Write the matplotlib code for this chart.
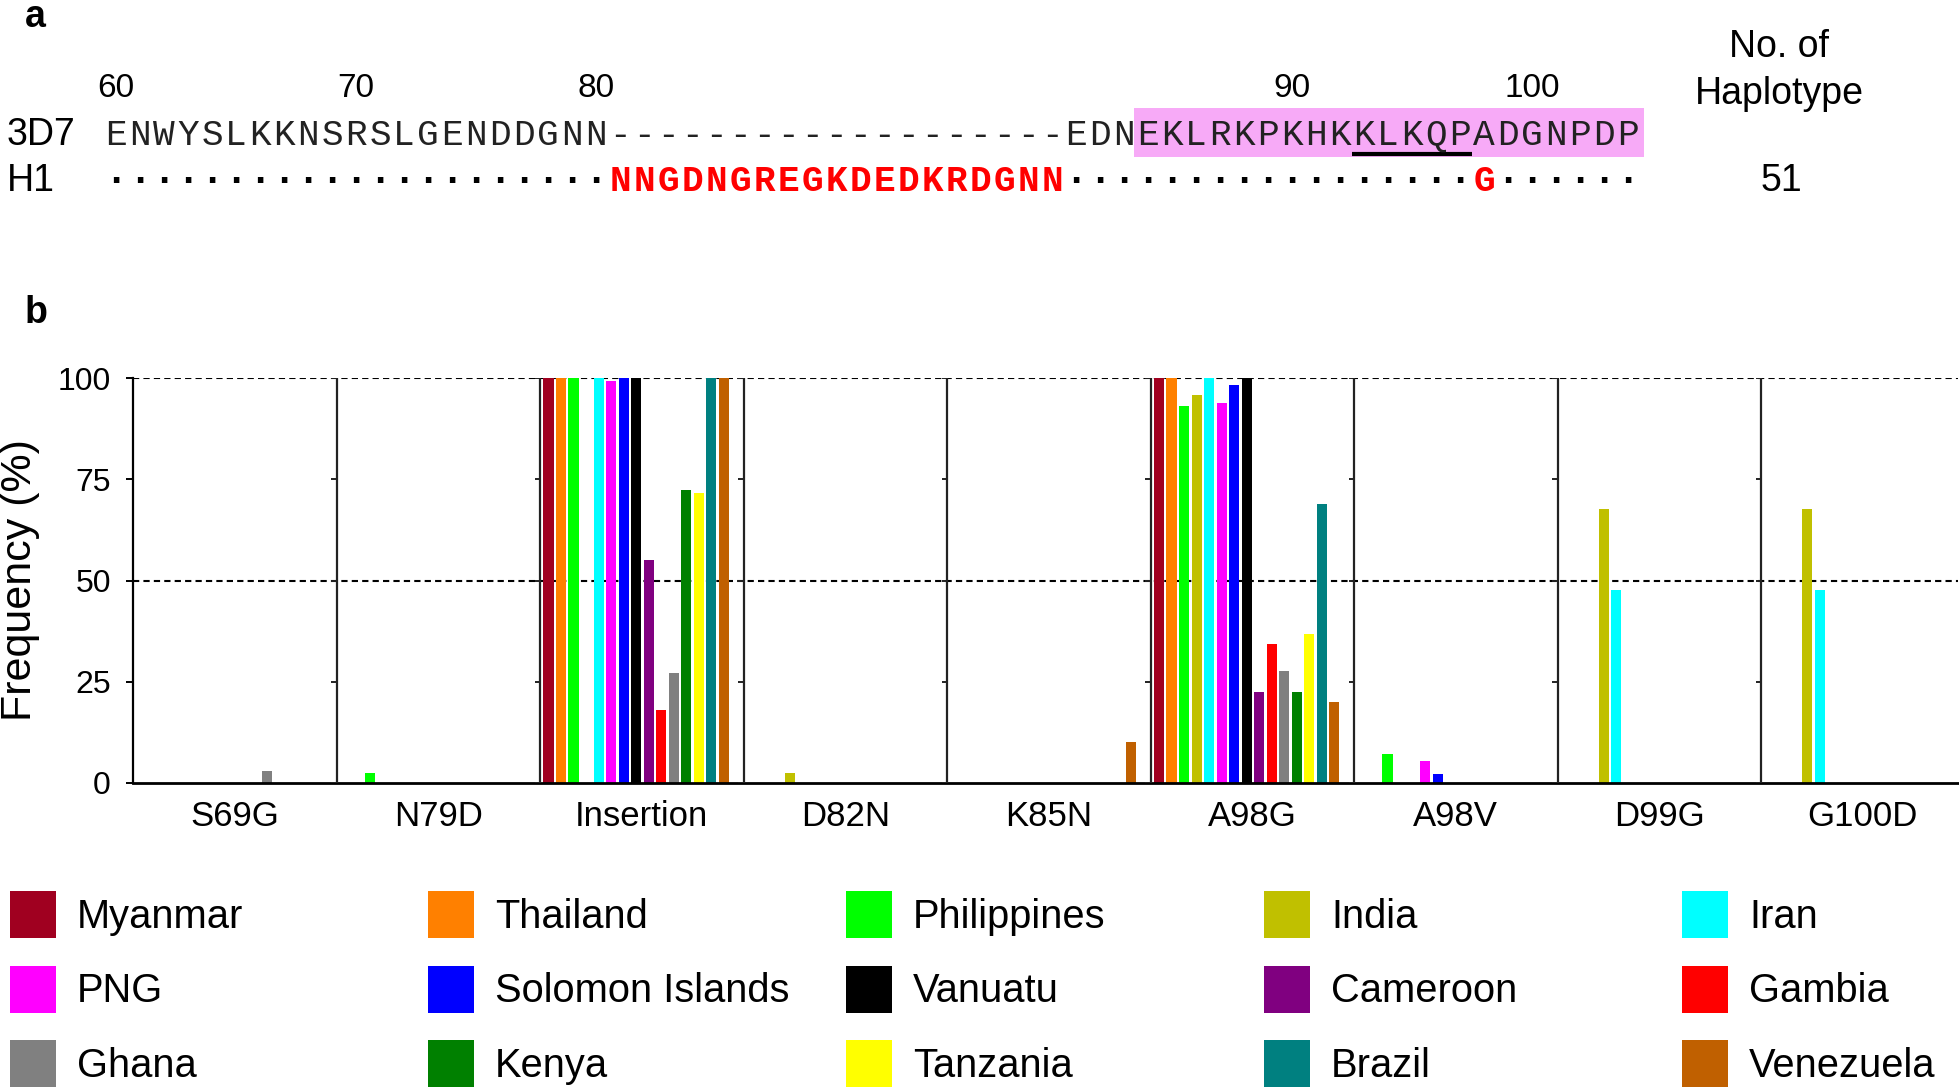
import matplotlib
matplotlib.use('Agg')
import matplotlib.pyplot as plt
from matplotlib.patches import Rectangle

plt.rcParams['font.family'] = ['Liberation Sans', 'DejaVu Sans']

# ---------------- data ----------------
countries = ['Myanmar', 'Thailand', 'Philippines', 'India', 'Iran',
             'PNG', 'Solomon Islands', 'Vanuatu', 'Cameroon', 'Gambia',
             'Ghana', 'Kenya', 'Tanzania', 'Brazil', 'Venezuela']
colors = ['#A00020', '#FF8000', '#00FF00', '#C0C000', '#00FFFF',
          '#FF00FF', '#0000FF', '#000000', '#800080', '#FF0000',
          '#808080', '#008000', '#FFFF00', '#008080', '#C06000']
mutations = ['S69G', 'N79D', 'Insertion', 'D82N', 'K85N',
             'A98G', 'A98V', 'D99G', 'G100D']

freq_S69G = [0, 0, 0, 0, 0, 0, 0, 0, 0, 0, 3.0, 0, 0, 0, 0]
freq_N79D = [0, 0, 2.5, 0, 0, 0, 0, 0, 0, 0, 0, 0, 0, 0, 0]
freq_Insertion = [100, 100, 100, 0, 100, 99.3, 100, 100, 55.0, 18.0, 27.2, 72.3, 71.7, 100, 100]
freq_D82N = [0, 0, 0, 2.4, 0, 0, 0, 0, 0, 0, 0, 0, 0, 0, 0]
freq_K85N = [0, 0, 0, 0, 0, 0, 0, 0, 0, 0, 0, 0, 0, 0, 10.2]
freq_A98G = [100, 100, 93.2, 95.9, 100, 93.9, 98.2, 100, 22.5, 34.4, 27.6, 22.5, 36.7, 69.0, 20.1]
freq_A98V = [0, 0, 7.2, 0, 0, 5.5, 2.1, 0, 0, 0, 0, 0, 0, 0, 0]
freq_D99G = [0, 0, 0, 67.6, 47.6, 0, 0, 0, 0, 0, 0, 0, 0, 0, 0]
freq_G100D = [0, 0, 0, 67.6, 47.6, 0, 0, 0, 0, 0, 0, 0, 0, 0, 0]
freqs = [freq_S69G, freq_N79D, freq_Insertion, freq_D82N, freq_K85N,
         freq_A98G, freq_A98V, freq_D99G, freq_G100D]
yticks = [0, 25, 50, 75, 100]

# sequence alignment (panel a)
seq_3d7 = "ENWYSLKKNSRSLGENDDGNN" + "-" * 19 + "EDN" + "EKLRKPKHKKLKQPADGNPDP"
seq_h1 = "." * 21 + "NNGDNGREGKDEDKRDGNN" + "." * 17 + "G" + "." * 6
residue_labels = [60, 70, 80, 90, 100]
highlight_res = (84, 104)
underline_res = (93, 97)
haplotype_count = '51'


def res_index(r):
    return r - 60 if r <= 80 else r - 41


# ---------------- figure ----------------
W, H = 1959, 1088
fig = plt.figure(figsize=(W / 100, H / 100), dpi=100)

# panel b axes
x_left, x_right, y_top, y_bot = 133, 1958, 378, 783
panel_px = 203.5
ax = fig.add_axes([x_left / W, 1 - y_bot / H, (x_right - x_left) / W, (y_bot - y_top) / H])
xmax = (x_right - x_left) / panel_px
ax.set_xlim(0, xmax)
ax.set_ylim(0, 100)

ax.hlines([50, 100], 0, xmax, colors='black', linestyles=(0, (3, 2)), lw=1.5, zorder=1)
for i, vals in enumerate(freqs):
    xs = [i + 0.042 + 0.0615 * j for j in range(len(vals))]
    ax.bar(xs, vals, width=0.05, color=colors, linewidth=0, zorder=2, clip_on=False)

ax.vlines(range(1, 9), 0, 100, colors='#222222', lw=1.6, zorder=3)
for d in range(1, 9):
    ax.hlines(yticks, d - 0.025, d, colors='#222222', lw=1.4, zorder=3)

for s in ['top', 'right']:
    ax.spines[s].set_visible(False)
ax.spines['left'].set_bounds(0, 100)
ax.spines['left'].set_linewidth(1.6)
ax.spines['bottom'].set_linewidth(2)
ax.set_yticks(yticks)
ax.tick_params(axis='y', direction='out', length=5, width=1.4, labelsize=23, pad=11)
ax.set_xticks([i + 0.5 for i in range(len(mutations))], mutations)
ax.tick_params(axis='x', length=0, labelsize=25, pad=12)
ax.set_ylabel('Frequency (%)', fontsize=31)
ax.yaxis.set_label_coords((40 - x_left) / (x_right - x_left), 0.5)

# overlay axes in pixel coordinates for panel a, labels and legend
ov = fig.add_axes([0, 0, 1, 1])
ov.set_xlim(0, W)
ov.set_ylim(H, 0)
ov.axis('off')

ov.text(25, 27, 'a', fontsize=27, fontweight='bold', va='baseline')
ov.text(25, 323, 'b', fontsize=27, fontweight='bold', va='baseline')

x0, cw = 104, 24.0
mono = 'Liberation Mono'
hs, he = res_index(highlight_res[0]), res_index(highlight_res[1])
ov.add_patch(Rectangle((x0 + hs * cw - 2, 108), (he - hs + 1) * cw + 6, 49,
                       facecolor='#F7AAF7', edgecolor='none', zorder=0))
us, ue = res_index(underline_res[0]), res_index(underline_res[1])
ov.plot([x0 + us * cw, x0 + (ue + 1) * cw], [154, 154], color='black', lw=3,
        solid_capstyle='butt', zorder=2)

for r in residue_labels:
    i = res_index(r)
    ov.text(x0 + (i + 0.5) * cw, 97, str(r), fontsize=24, ha='center', va='baseline')

ov.text(7, 145, '3D7', fontsize=27, va='baseline')
ov.text(7, 191, 'H1', fontsize=27, va='baseline')

for i, ch in enumerate(seq_3d7):
    ov.text(x0 + (i + 0.5) * cw, 145, ch, fontsize=26, family=mono,
            ha='center', va='baseline', color='#222222', zorder=3)
for i, ch in enumerate(seq_h1):
    if ch == '.':
        ov.text(x0 + (i + 0.5) * cw, 191, '\u00b7', fontsize=28, family=mono,
                fontweight='bold', ha='center', va='baseline', color='black')
    else:
        ov.text(x0 + (i + 0.5) * cw, 191, ch, fontsize=26, family=mono,
                fontweight='bold', ha='center', va='baseline', color='red')

ov.text(1779, 57, 'No. of', fontsize=27, ha='center', va='baseline')
ov.text(1779, 104, 'Haplotype', fontsize=27, ha='center', va='baseline')
ov.text(1781, 191, haplotype_count, fontsize=27, ha='center', va='baseline')

# legend
for k, (name, col) in enumerate(zip(countries, colors)):
    r, c = divmod(k, 5)
    lx = 10 + c * 418
    yc = 914 + r * 74.5
    ov.add_patch(Rectangle((lx, yc - 23), 46, 47, facecolor=col, edgecolor='none'))
    ov.text(lx + 67, yc + 14, name, fontsize=28.7, va='baseline')

fig.savefig('out.png', dpi=100)
